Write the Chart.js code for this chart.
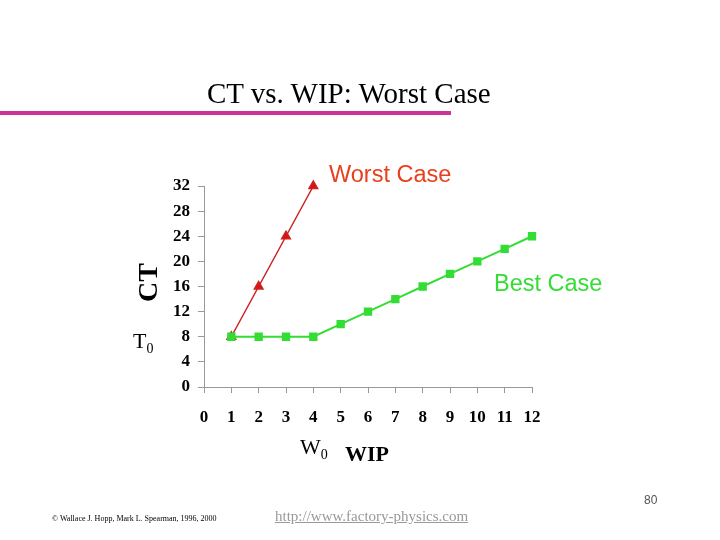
<!DOCTYPE html>
<html><head><meta charset="utf-8">
<script src="https://cdn.jsdelivr.net/npm/chart.js@4"></script>
<style>
body{margin:0;width:720px;height:540px;background:#fff;position:relative;overflow:hidden}
.t{position:absolute;white-space:nowrap;line-height:1}
canvas{position:absolute;left:0;top:0}
</style></head><body>
<canvas id="c" width="720" height="540"></canvas>
<div class="t" style="left:207px;top:77px;font:29px 'Liberation Serif';">CT vs. WIP: Worst Case</div>
<div style="position:absolute;left:0;top:111px;width:451px;height:4px;background:#cc3399"></div>
<div class="t" style="left:329px;top:161px;font:23.5px 'Liberation Sans';color:#e8401c">Worst Case</div>
<div class="t" style="left:494px;top:270px;font:23.5px 'Liberation Sans';color:#33dd33">Best Case</div>
<div class="t" style="left:133px;top:328px;font:22px 'Liberation Serif'">T<sub style="font-size:14px">0</sub></div>
<div class="t" style="left:300px;top:434px;font:22px 'Liberation Serif'">W<sub style="font-size:14px">0</sub></div>
<div class="t" style="left:345px;top:441px;font:bold 22px 'Liberation Serif'">WIP</div>
<div class="t" style="left:132px;top:302px;font:bold 28px 'Liberation Serif';transform:rotate(-90deg);transform-origin:0 0">CT</div>
<div class="t" style="left:52px;top:514px;font:8px 'Liberation Serif'">© Wallace J. Hopp, Mark L. Spearman, 1996, 2000</div>
<div class="t" style="left:275px;top:508px;font:15px 'Liberation Serif';color:#999;text-decoration:underline">http://www.factory-physics.com</div>
<div class="t" style="left:644px;top:493px;font:12px 'Liberation Sans';color:#555">80</div>
<script>
const xLabels=['0','1','2','3','4','5','6','7','8','9','10','11','12'];
const worstX=[1,2,3,4];
const worstY=[8,16,24,32];
const bestX=[1,2,3,4,5,6,7,8,9,10,11,12];
const bestY=[8,8,8,8,10,12,14,16,18,20,22,24];
const yTicks=[0,4,8,12,16,20,24,28,32];
const tickFont={family:'Liberation Serif',size:17,weight:'bold'};
new Chart(document.getElementById('c'),{type:'line',
data:{datasets:[
{data:bestX.map((x,i)=>({x,y:bestY[i]})),borderColor:'#33dd33',backgroundColor:'#33dd33',pointStyle:'rect',pointRadius:4.5,borderWidth:2,clip:false},
{data:worstX.map((x,i)=>({x,y:worstY[i]})),borderColor:'#cc2222',backgroundColor:'#dd1111',pointStyle:'triangle',pointRadius:5,borderWidth:1.5,clip:false}
]},
options:{responsive:false,animation:false,
plugins:{legend:{display:false},tooltip:{enabled:false}},
layout:{padding:{left:150,right:188,top:186,bottom:0}},
scales:{
x:{type:'linear',min:0,max:12,afterFit:s=>{s.height=153},
 afterBuildTicks:s=>{s.ticks=xLabels.map(v=>({value:+v}))},
 ticks:{color:'#000',font:tickFont,padding:14,maxRotation:0},
 grid:{drawOnChartArea:false,tickLength:6,color:'#999'},border:{color:'#999'}},
y:{min:0,max:32,afterFit:s=>{s.width=54},
 afterBuildTicks:s=>{s.ticks=yTicks.map(v=>({value:v}))},
 ticks:{color:'#000',font:tickFont,padding:8},
 grid:{drawOnChartArea:false,tickLength:6,color:'#999'},border:{color:'#999'}}
}}});
</script></body></html>
